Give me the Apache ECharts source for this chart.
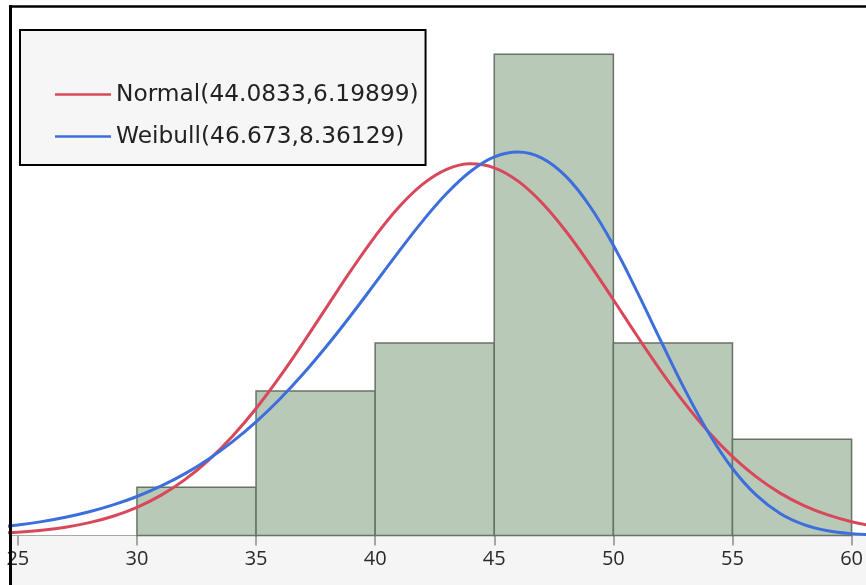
<!DOCTYPE html>
<html><head><meta charset="utf-8">
<script src="https://cdn.jsdelivr.net/npm/echarts@6/dist/echarts.min.js"></script>
<style>html,body{margin:0;padding:0;background:#fff}#c{width:866px;height:585px}</style>
</head><body><div id="c"></div>
<script>
// Histogram bins
const binLow = [30, 35, 40, 45, 50, 55];
const binHigh = [35, 40, 45, 50, 55, 60];
const binCount = [1, 3, 4, 10, 4, 2];

// Fitted curves (in count units)
const curveX = [24,25,26,27,28,29,30,31,32,33,34,35,36,37,38,39,40,41,42,43,44,45,46,47,48,49,50,51,52,53,54,55,56,57,58,59,60,61];
const normalY = [0.04,0.068,0.11,0.173,0.267,0.4,0.585,0.833,1.155,1.561,2.057,2.639,3.3,4.02,4.771,5.517,6.216,6.824,7.299,7.606,7.722,7.639,7.362,6.914,6.325,5.639,4.897,4.144,3.417,2.745,2.148,1.638,1.217,0.881,0.621,0.427,0.286,0.187];
const weibullY = [0.16,0.216,0.288,0.379,0.493,0.635,0.81,1.024,1.28,1.586,1.945,2.361,2.837,3.37,3.957,4.586,5.243,5.904,6.537,7.104,7.562,7.865,7.967,7.841,7.465,6.85,6.028,5.062,4.035,3.031,2.131,1.392,0.837,0.458,0.227,0.1,0.039,0.013];

const tickValues = [25, 30, 35, 40, 45, 50, 55, 60];
const normalName = 'Normal(44.0833,6.19899)';
const weibullName = 'Weibull(46.673,8.36129)';

const histData = binLow.map((lo, i) => [lo, binHigh[i], binCount[i]]);

const chart = echarts.init(document.getElementById('c'));
chart.setOption({
  animation: false,
  backgroundColor: '#ffffff',
  grid: { left: 10, right: 0, top: 6, bottom: 49.5 },
  xAxis: {
    type: 'value', min: 24.67, max: 60.54,
    splitLine: { show: false },
    axisLine: { show: true, onZero: false, lineStyle: { color: '#a8a8a8', width: 1 } },
    axisTick: { show: true, customValues: tickValues, length: 10, lineStyle: { color: '#8c8c8c', width: 1.5 } },
    axisLabel: { customValues: tickValues, fontSize: 20, color: '#2a2a2a', margin: 14, fontFamily: 'Open Sans' }
  },
  yAxis: { type: 'value', min: 0, max: 11, show: false, splitLine: { show: false } },
  legend: {
    left: 20, top: 30, orient: 'vertical',
    data: [
      { name: normalName, icon: 'rect' },
      { name: weibullName, icon: 'rect' }
    ],
    backgroundColor: '#f6f6f6', borderColor: '#000', borderWidth: 2, borderRadius: 0,
    padding: [52, 7, 16, 35], itemGap: 17, itemWidth: 56, itemHeight: 2.5,
    textStyle: { fontFamily: 'DejaVu Sans', fontSize: 23.3, color: '#222', lineHeight: 25 }
  },
  graphic: [
    { type: 'rect', z: -10, shape: { x: 10, y: 536, width: 856, height: 49 }, style: { fill: '#f5f5f5' }, silent: true },
    { type: 'line', z: 100, shape: { x1: 10.5, y1: 5, x2: 10.5, y2: 585 }, style: { stroke: '#000', lineWidth: 3 }, silent: true },
    { type: 'line', z: 100, shape: { x1: 9, y1: 6.5, x2: 866, y2: 6.5 }, style: { stroke: '#000', lineWidth: 2.5 }, silent: true }
  ],
  series: [
    {
      type: 'custom', name: 'hist', z: 2,
      data: histData,
      encode: { x: [0, 1], y: 2 },
      renderItem: function (params, api) {
        const p0 = api.coord([api.value(0), 0]);
        const p1 = api.coord([api.value(1), api.value(2)]);
        return { type: 'rect',
          shape: { x: p0[0], y: p1[1], width: p1[0] - p0[0], height: p0[1] - p1[1] },
          style: { fill: '#b9c9b8', stroke: '#667366', lineWidth: 1.5 } };
      }
    },
    {
      type: 'line', name: normalName, z: 5, smooth: 0.4, showSymbol: false, symbol: 'none',
      data: curveX.map((x, i) => [x, normalY[i]]),
      lineStyle: { color: '#d8485a', width: 3 }, itemStyle: { color: '#d8485a' }
    },
    {
      type: 'line', name: weibullName, z: 5, smooth: 0.4, showSymbol: false, symbol: 'none',
      data: curveX.map((x, i) => [x, weibullY[i]]),
      lineStyle: { color: '#3c6edc', width: 3 }, itemStyle: { color: '#3c6edc' }
    }
  ]
});
</script>
</body></html>
